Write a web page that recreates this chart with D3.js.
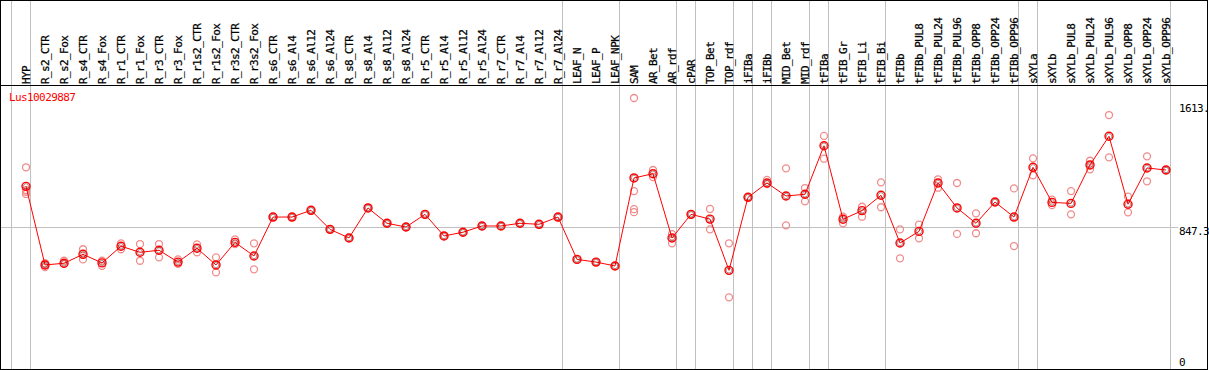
<!DOCTYPE html>
<html>
<head>
<meta charset="utf-8">
<script src="https://cdn.jsdelivr.net/npm/d3@7"></script>
<style>
  body { margin: 0; background: #fff; }
  svg { display: block; }
  text { font-family: "DejaVu Sans Mono", monospace; font-size: 11px; letter-spacing: -0.6px; }
</style>
</head>
<body>
<div id="chart"></div>
<script>
var geneName = "Lus10029887";

var samples = ["HYP", "R_s2_CTR", "R_s2_Fox", "R_s4_CTR", "R_s4_Fox", "R_r1_CTR", "R_r1_Fox",
  "R_r3_CTR", "R_r3_Fox", "R_r1s2_CTR", "R_r1s2_Fox", "R_r3s2_CTR", "R_r3s2_Fox",
  "R_s6_CTR", "R_s6_Al4", "R_s6_Al12", "R_s6_Al24", "R_s8_CTR", "R_s8_Al4", "R_s8_Al12", "R_s8_Al24",
  "R_r5_CTR", "R_r5_Al4", "R_r5_Al12", "R_r5_Al24", "R_r7_CTR", "R_r7_Al4", "R_r7_Al12", "R_r7_Al24",
  "LEAF_N", "LEAF_P", "LEAF_NPK", "SAM", "AR_Bet", "AR_rdf", "cPAR", "TOP_Bet", "TOP_rdf",
  "iFIBa", "iFIBb", "MID_Bet", "MID_rdf", "tFIBa", "tFIB_Gr", "tFIB_Li", "tFIB_Bi",
  "tFIBb", "tFIBb_PUL8", "tFIBb_PUL24", "tFIBb_PUL96", "tFIBb_OPP8", "tFIBb_OPP24", "tFIBb_OPP96",
  "sXYLa", "sXYLb", "sXYLb_PUL8", "sXYLb_PUL24", "sXYLb_PUL96", "sXYLb_OPP8", "sXYLb_OPP24", "sXYLb_OPP96"];

// first sample of each group (separator lines)
var groupStarts = ["HYP", "R_s2_CTR", "LEAF_N", "SAM", "cPAR", "TOP_Bet", "iFIBa", "iFIBb",
  "MID_Bet", "tFIBa", "tFIB_Gr", "tFIBb", "sXYLa", "sXYLb"];

var means = [1089, 623, 633, 686, 635, 734, 698, 710, 640, 722, 623, 757, 676,
  907, 907, 947, 834, 783, 961, 870, 848, 923, 795, 817, 854, 854, 870, 864, 907,
  656, 640, 617, 1139, 1164, 783, 923, 895, 591,
  1024, 1109, 1032, 1042, 1330, 894, 945, 1036,
  753, 822, 1109, 961, 870, 996, 907,
  1202, 994, 988, 1216, 1386, 983, 1198, 1186];

var replicates = [[1202, 1067, 1057, 1044], [633, 623, 610], [648, 629], [716, 656], [648, 618],
  [751, 716], [747, 648], [747, 668], [656, 629], [745, 698], [668, 579], [775, 747], [751, 597],
  [907], [907], [947], [834], [783], [961], [870], [848], [923], [795], [817], [854], [854], [870], [864], [907],
  [656], [640], [617], [1613, 1061, 954, 936], [1186, 1144], [806, 751], [923], [955, 834], [751, 431],
  [1024], [1127, 1103], [1196, 858], [1079, 1000], [1388, 1253], [909, 870], [968, 909], [1113, 965],
  [834, 662], [862, 781], [1131, 1081], [1109, 807], [929, 811], [996], [1077, 735],
  [1255, 1155], [1010, 978], [1061, 923], [1241, 1190], [1512, 1261], [1028, 935], [1267, 1119], [1186]];

var tickValues = [1613, 847.3, 0];
var tickLabels = ["1613.", "847.3", "0"];

var width = 1209, height = 370;
var headerH = 85;

var svg = d3.select("#chart").append("svg")
    .attr("width", width)
    .attr("height", height);

var x = d3.scaleBand().domain(samples).range([11, 1170]).padding(0);
var px = function(s) { return x(s) + x.bandwidth() * 0.79; };
var y = d3.scaleLinear().domain([0, 1613]).range([370, 98]);

// separators
var seps = groupStarts.map(function(s) { return x(s); });
seps.push(1170);
svg.selectAll("line.sep").data(seps).enter().append("line")
    .attr("x1", function(d) { return d + 0.5; })
    .attr("x2", function(d) { return d + 0.5; })
    .attr("y1", 0).attr("y2", height)
    .style("stroke", "#c0c0c0").style("stroke-width", 1);

// mean reference line
svg.append("line")
    .attr("x1", 1).attr("x2", 1178)
    .attr("y1", Math.round(y(847.3)) + 0.5).attr("y2", Math.round(y(847.3)) + 0.5)
    .style("stroke", "#c0c0c0").style("stroke-width", 1);

// frame
svg.append("line").attr("x1", 0).attr("x2", 1208).attr("y1", 0.5).attr("y2", 0.5).style("stroke", "#000");
svg.append("line").attr("x1", 0).attr("x2", 1208).attr("y1", headerH + 0.5).attr("y2", headerH + 0.5).style("stroke", "#000");
svg.append("line").attr("x1", 0).attr("x2", 1208).attr("y1", 369.5).attr("y2", 369.5).style("stroke", "#000");
svg.append("line").attr("x1", 0.5).attr("x2", 0.5).attr("y1", 0).attr("y2", height).style("stroke", "#000");
svg.append("line").attr("x1", 1207.5).attr("x2", 1207.5).attr("y1", 0).attr("y2", height).style("stroke", "#000");

// header labels
svg.selectAll("text.lab").data(samples).enter().append("text")
    .attr("class", "lab")
    .attr("transform", function(d) { return "translate(" + (px(d) + 4) + "," + 84 + ") rotate(-90)"; })
    .style("fill", "#000")
    .style("stroke", "#000")
    .style("stroke-width", 0.25)
    .text(function(d) { return d; });

// right axis labels
var tickDy = [14, 8, -4];
svg.selectAll("text.tick").data(tickValues).enter().append("text")
    .attr("x", 1179)
    .attr("y", function(d, i) { return y(d) + tickDy[i]; })
    .style("fill", "#000")
    .text(function(d, i) { return tickLabels[i]; });

// gene name
svg.append("text")
    .attr("x", 9).attr("y", 101)
    .style("fill", "#ff0000")
    .text(geneName);

// replicate circles
samples.forEach(function(s, i) {
    svg.selectAll(null).data(replicates[i]).enter().append("circle")
        .attr("cx", px(s))
        .attr("cy", function(d) { return y(d); })
        .attr("r", 3.5)
        .style("fill", "none")
        .style("stroke", "#f08c8c")
        .style("stroke-width", 1.3);
});

// mean line
var line = d3.line()
    .x(function(d, i) { return px(samples[i]); })
    .y(function(d) { return y(d); });
svg.append("path")
    .datum(means)
    .attr("d", line)
    .style("fill", "none")
    .style("stroke", "#ff0000")
    .style("stroke-width", 1);

// mean markers
svg.selectAll("circle.mean").data(means).enter().append("circle")
    .attr("class", "mean")
    .attr("cx", function(d, i) { return px(samples[i]); })
    .attr("cy", function(d) { return y(d); })
    .attr("r", 4)
    .style("fill", "none")
    .style("stroke", "#ff0000")
    .style("stroke-width", 1.4);
svg.selectAll("circle.meanin").data(means).enter().append("circle")
    .attr("cx", function(d, i) { return px(samples[i]); })
    .attr("cy", function(d) { return y(d); })
    .attr("r", 2.7)
    .style("fill", "none")
    .style("stroke", "#400000")
    .style("stroke-opacity", 0.6)
    .style("stroke-width", 0.7);
</script>
</body>
</html>
